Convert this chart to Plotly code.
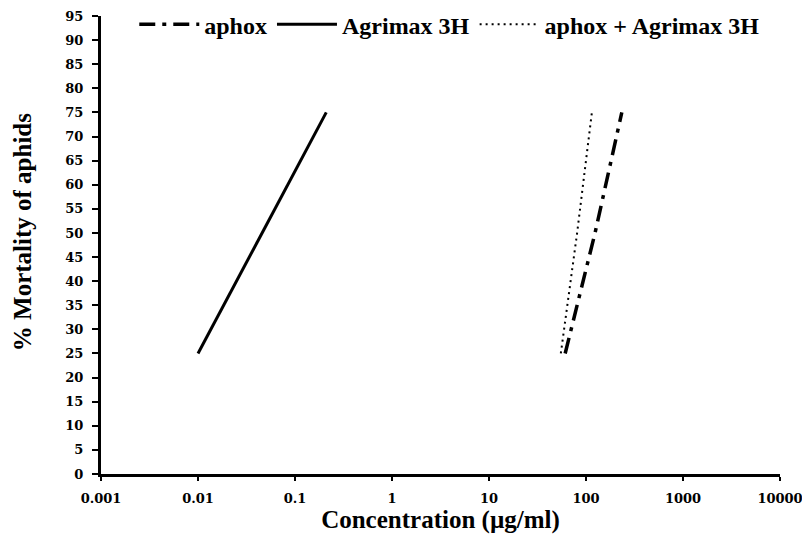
import plotly.graph_objects as go

mortality = [25, 50, 75]
aphox_conc = [61, 124, 234]
agrimax_conc = [0.01, 0.046, 0.21]
mix_conc = [55, 81, 115]

x_tickvals = [0.001, 0.01, 0.1, 1, 10, 100, 1000, 10000]
x_ticktext = ["0.001", "0.01", "0.1", "1", "10", "100", "1000", "10000"]
y_tickvals = list(range(0, 100, 5))

fig = go.Figure()
fig.add_trace(go.Scatter(x=aphox_conc, y=mortality, mode="lines", name="aphox",
                         line=dict(color="black", width=3.5, dash="16px,7px,4px,7px")))
fig.add_trace(go.Scatter(x=agrimax_conc, y=mortality, mode="lines", name="Agrimax 3H",
                         line=dict(color="black", width=3)))
fig.add_trace(go.Scatter(x=mix_conc, y=mortality, mode="lines", name="aphox + Agrimax 3H",
                         line=dict(color="black", width=2, dash="2px,4px")))

serif = "Liberation Serif"
tickfont = dict(family="DejaVu Serif", size=13, color="black", weight="bold")
titlefont = dict(family=serif, size=25, color="black", weight="bold")

# page body adds an 8px offset, so the figure is sized 8px smaller
fig.update_layout(
    width=802, height=546,
    margin=dict(l=93, r=30, t=8, b=80, autoexpand=False),
    paper_bgcolor="white", plot_bgcolor="white",
    showlegend=True,
    legend=dict(orientation="h", x=0.049, y=1.03, xanchor="left", yanchor="top",
                font=dict(family=serif, size=24, color="black", weight="bold"),
                bgcolor="rgba(0,0,0,0)", itemwidth=60, tracegroupgap=0),
    font=dict(family=serif, color="black"),
    annotations=[dict(text="% Mortality of aphids", xref="paper", yref="paper",
                      x=-0.1163, y=0.528, xanchor="center", yanchor="middle",
                      textangle=-90, showarrow=False, font=titlefont)],
)
fig.update_xaxes(type="log", range=[-3, 4], tickvals=x_tickvals, ticktext=x_ticktext,
                 automargin=False,
                 showgrid=False, zeroline=False, showline=True, linecolor="black", linewidth=3,
                 ticks="outside", ticklen=4, tickwidth=2, tickcolor="black",
                 tickfont=tickfont, ticklabelstandoff=6,
                 title=dict(text="Concentration (µg/ml)", standoff=6, font=titlefont))
fig.update_yaxes(range=[0, 95], tickvals=y_tickvals, automargin=False,
                 showgrid=False, zeroline=False, showline=True, linecolor="black", linewidth=3,
                 ticks="outside", ticklen=6, tickwidth=2, tickcolor="black",
                 tickfont=tickfont, ticklabelstandoff=6)

fig.write_html("out.html")
